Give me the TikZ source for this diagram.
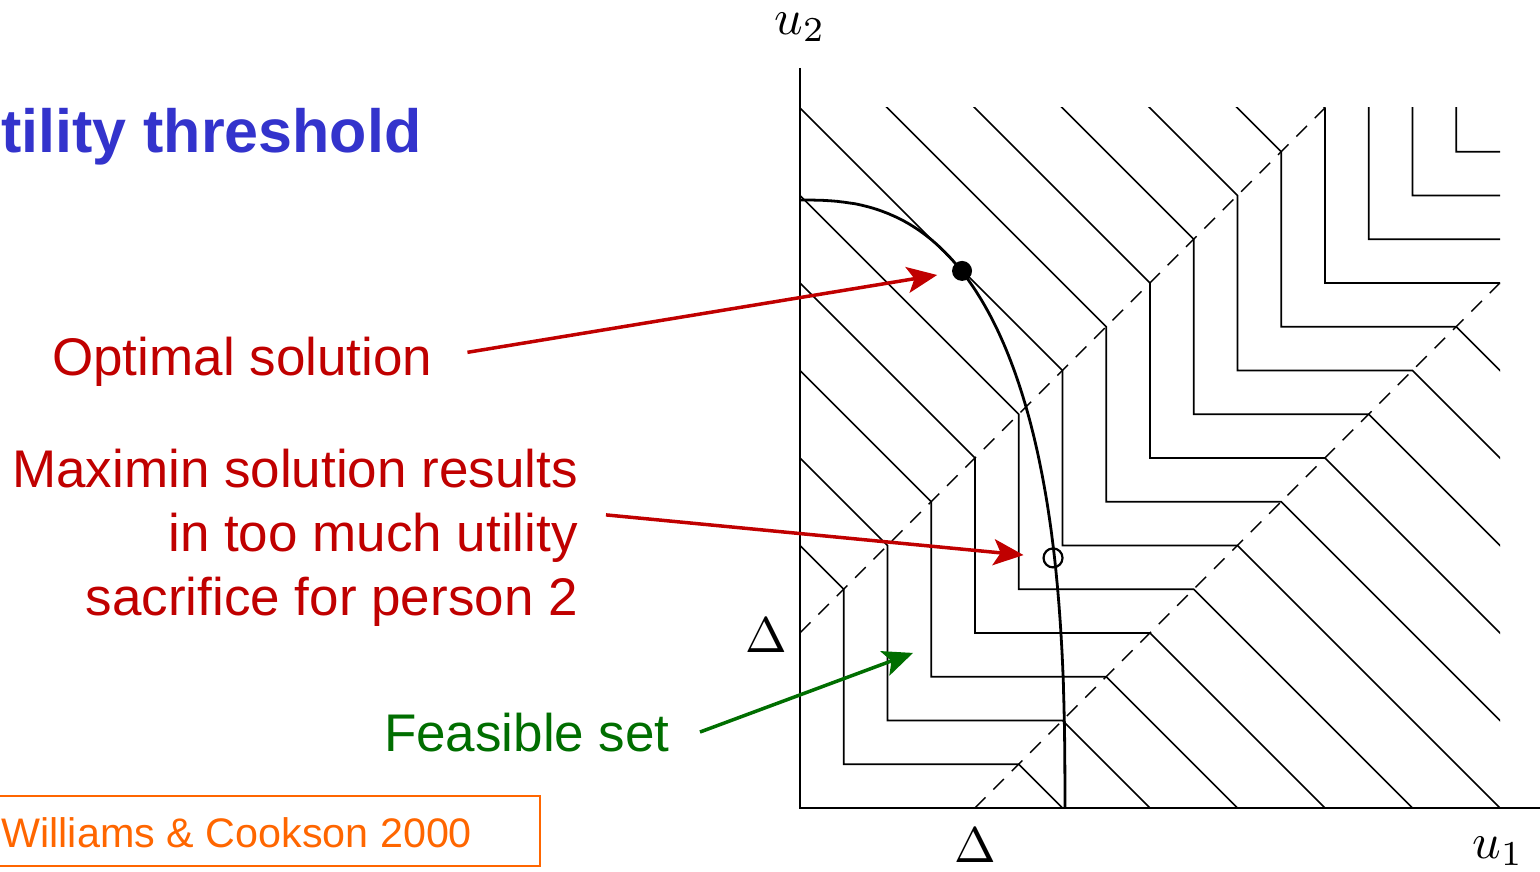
\documentclass[tikz,border=0pt]{standalone}
\usepackage{amsmath, amssymb}
\usepackage{fontspec}
\usetikzlibrary{arrows.meta}
\newfontfamily\arial{Liberation Sans}
\definecolor{titleblue}{RGB}{51,51,204}
\definecolor{darkred}{RGB}{192,0,0}
\definecolor{darkgreen}{RGB}{0,110,0}
\definecolor{citeorange}{RGB}{255,102,0}

\begin{document}
\begin{tikzpicture}[x=175pt, y=175pt,
    levelline/.style={line width=1.6pt},
    note/.style={font=\arial\fontsize{53}{64}\selectfont, inner sep=0pt},
    axislabel/.style={inner sep=0pt, anchor=base, scale=5},
    pointer/.style={line width=3.5pt, -{Stealth[length=30pt,width=26pt,inset=7pt]}}]
    % 画面范围
    \useasboundingbox (-4.5714,-0.3657) rectangle (4.2286,4.6171);

    % 无差异曲线 (Delta = 1)
    \begin{scope}
        \clip (0,0) rectangle (4,4);
        \foreach \k in {1,...,15} {
            \pgfmathsetmacro{\a}{\k/4}
            \draw[levelline] (0,2*\a+1) -- (\a,\a+1) -- (\a,\a) -- (\a+1,\a) -- (2*\a+1,0);
        }
        % 虚线 |u1-u2| = Delta
        \draw[line width=1.4pt, dash pattern=on 15pt off 11pt] (0,1) -- (3,4);
        \draw[line width=1.4pt, dash pattern=on 15pt off 11pt] (1,0) -- (4,3);
    \end{scope}

    % 坐标轴
    \draw[line width=1.6pt] (0,4.2286) -- (0,0) -- (4.2286,0);
    \node[axislabel] (u2) at (0,4.42) {$u_2$};
    \node[axislabel] (u1) at (3.989,-0.286) {$u_1$};
    \node[axislabel] (dy) at (-0.194,0.891) {$\Delta$};
    \node[axislabel] (dx) at (1,-0.309) {$\Delta$};

    % 可行集边界
    \draw[line width=2.8pt, domain=0:90, samples=200, variable=\t]
        plot ({1.514*pow(max(cos(\t),0.00001),0.769)}, {3.474*pow(max(sin(\t),0.00001),0.769)});

    % 最优解与 maximin 解
    \node[circle, fill, inner sep=0pt, minimum size=20pt] (opt) at (0.926,3.069) {};
    \node[circle, draw, line width=2.2pt, inner sep=0pt, minimum size=19pt] (maximin) at (1.446,1.429) {};
    \coordinate (fs) at (0.646,0.886);

    % 标题与说明文字
    \node[font=\arial\bfseries\fontsize{61}{73}\selectfont, text=titleblue, inner sep=0pt, anchor=base west]
        (title) at (-4.566,3.743) {tility threshold};
    \node[note, text=darkred, anchor=base west] (optlabel) at (-4.274,2.474) {Optimal solution};
    \node[note, text=darkred, anchor=north east, align=right] (maxlabel) at (-1.2686,2.0514)
        {Maximin solution results\\ in too much utility\\ sacrifice for person 2};
    \node[note, text=darkgreen, anchor=base east] (fslabel) at (-0.743,0.32) {Feasible set};

    % 箭头
    \draw[pointer, darkred, shorten >=15pt] ([xshift=35pt,yshift=9pt]optlabel.east) -- (opt);
    \draw[pointer, darkred, shorten >=19pt] ([xshift=28pt,yshift=23pt]maxlabel.east) -- (maximin);
    \draw[pointer, darkgreen] ([xshift=30pt,yshift=1pt]fslabel.east) -- (fs);

    % 文献
    \draw[citeorange, line width=2pt] (-4.6,0.0686) rectangle (-1.4857,-0.3314);
    \node[font=\arial\fontsize{41.3}{50}\selectfont, text=citeorange, inner sep=0pt, anchor=base west]
        (cite) at (-4.564,-0.2286) {Williams \& Cookson 2000};
\end{tikzpicture}
\end{document}
